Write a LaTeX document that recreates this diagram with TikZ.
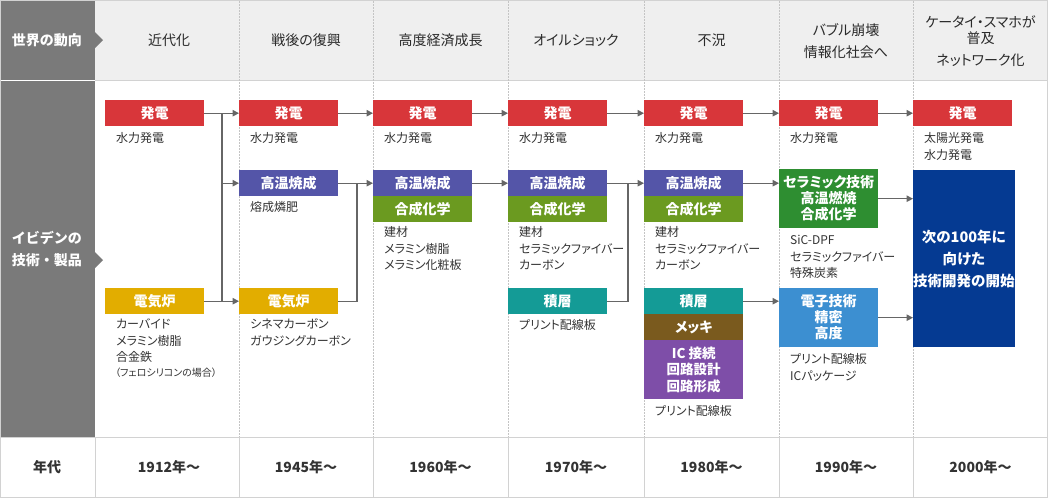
\documentclass[tikz,border=0pt]{standalone}
\usepackage{fontspec}
\setmainfont{Noto Sans CJK JP}[RawFeature={+palt}]
\newfontfamily\fwfont{Noto Sans CJK JP}
\usetikzlibrary{arrows.meta,calc}
\definecolor{cRed}{HTML}{D8363A}
\definecolor{cHt}{HTML}{5455A8}
\definecolor{cSyn}{HTML}{6B9A20}
\definecolor{cFurn}{HTML}{E2AD00}
\definecolor{cLam}{HTML}{149B96}
\definecolor{cPlt}{HTML}{7A5A1E}
\definecolor{cIC}{HTML}{7E4EA8}
\definecolor{cCer}{HTML}{2E8E31}
\definecolor{cEle}{HTML}{3C8FD1}
\definecolor{cNext}{HTML}{053A92}
\definecolor{leftgray}{HTML}{7A7A7A}
\definecolor{hdrbg}{HTML}{EFEFEF}
\definecolor{gridc}{HTML}{D2D2D2}
\definecolor{dotc}{HTML}{C4C4C4}
\definecolor{txtc}{HTML}{333333}
\definecolor{hdrc}{HTML}{2A2A2A}
\definecolor{lnc}{HTML}{666666}
\newcommand\tblock[4]{\foreach \s [count=\i] in {#4} {\node[btxt] (#1-\i) at (#2,{#3+(\i-1)*16.5}) {\s};}}
\begin{document}
\begin{tikzpicture}[x=1pt,y=-1pt,
  colbox/.style={rectangle, inner sep=0pt, minimum width=99pt, minimum height=26pt, anchor=north west, text=white, font=\fontsize{14}{16}\selectfont\bfseries, align=center},
  btxt/.style={anchor=base west, inner sep=0pt, text=txtc, font=\fontsize{12}{14}\selectfont},
  smtxt/.style={anchor=base west, inner sep=0pt, text=txtc, font=\fontsize{10}{12}\selectfont},
  hdr/.style={inner sep=0pt, text=hdrc, align=center, font=\fontsize{14}{22}\selectfont},
  lbl/.style={inner sep=0pt, text=white, align=center, font=\fwfont\fontsize{14}{22}\selectfont\bfseries},
  yr/.style={inner sep=0pt, text=txtc, font=\fontsize{14}{16}\selectfont\bfseries},
  conn/.style={draw=lnc, line width=1.2pt},
  arr/.style={conn, -{Triangle[length=6.5pt,width=6.5pt]}},
  grid/.style={draw=gridc, line width=1pt},
  dotl/.style={draw=dotc, line width=1pt, dash pattern=on 1.5pt off 1.5pt},
]
\useasboundingbox (0,0) rectangle (1050,498);
% backgrounds
\fill[white] (0,0) rectangle (1050,498);
\fill[hdrbg] (95,0) rectangle (1048,80);
\fill[leftgray] (0,0) rectangle (95,79.5);
\fill[leftgray] (95,32) -- (103,40) -- (95,48) -- cycle;
\fill[leftgray] (0,80.5) rectangle (95,437);
\fill[leftgray] (95,252) -- (103,260) -- (95,268) -- cycle;
% grid lines
\draw[grid] (95,80) -- (1048,80);
\draw[grid] (0,437) -- (1048,437);
\draw[grid] (0.5,0.5) rectangle (1047.5,497.5);
\foreach \xx in {95,239,373,508,644,779,913} {\draw[grid] (\xx,437) -- (\xx,497.5);}
\foreach \xx in {239,373,508,644,779,913} {\draw[dotl] (\xx,1) -- (\xx,437);}
% left labels
\node[lbl] (lw) at (47,40) {世界の動向};
\node[lbl] (li) at (47,249) {イビデンの\\技術・製品};
\node[yr] (ylab) at (47,467) {年代};
% header
\node[hdr] (h1) at (169,40) {近代化};
\node[hdr] (h2) at (306,40) {戦後の復興};
\node[hdr] (h3) at (440.5,40) {高度経済成長};
\node[hdr] (h4) at (576,40) {オイルショック};
\node[hdr] (h5) at (711.5,40) {不況};
\node[hdr] (h6) at (846,41) {バブル崩壊\\情報化社会へ};
\node[hdr, font=\fontsize{14}{16}\selectfont] (h7) at (980.5,41) {ケータイ・スマホが\\普及\\[6pt]ネットワーク化};
% years
\node[yr] (y1) at (169,467) {1912年〜};
\node[yr] (y2) at (306,467) {1945年〜};
\node[yr] (y3) at (440.5,467) {1960年〜};
\node[yr] (y4) at (576,467) {1970年〜};
\node[yr] (y5) at (711.5,467) {1980年〜};
\node[yr] (y6) at (846,467) {1990年〜};
\node[yr] (y7) at (980.5,467) {2000年〜};
% boxes col 1
\node[colbox, fill=cRed] (c1pow) at (105,100) {発電};
\node[colbox, fill=cFurn] (c1furn) at (105,288) {電気炉};
% col 2
\node[colbox, fill=cRed] (c2pow) at (239,100) {発電};
\node[colbox, fill=cHt] (c2ht) at (239,170) {高温焼成};
\node[colbox, fill=cFurn] (c2furn) at (239,288) {電気炉};
% col 3
\node[colbox, fill=cRed] (c3pow) at (373,100) {発電};
\node[colbox, fill=cHt] (c3ht) at (373,170) {高温焼成};
\node[colbox, fill=cSyn] (c3syn) at (373,196) {合成化学};
% col 4
\node[colbox, fill=cRed] (c4pow) at (508,100) {発電};
\node[colbox, fill=cHt] (c4ht) at (508,170) {高温焼成};
\node[colbox, fill=cSyn] (c4syn) at (508,196) {合成化学};
\node[colbox, fill=cLam] (c4lam) at (508,288) {積層};
% col 5
\node[colbox, fill=cRed] (c5pow) at (644,100) {発電};
\node[colbox, fill=cHt] (c5ht) at (644,170) {高温焼成};
\node[colbox, fill=cSyn] (c5syn) at (644,196) {合成化学};
\node[colbox, fill=cLam] (c5lam) at (644,288) {積層};
\node[colbox, fill=cPlt] (c5plt) at (644,314) {メッキ};
\node[colbox, fill=cIC, minimum height=59pt, font=\fontsize{13.5}{16.5}\selectfont\bfseries] (c5ic) at (644,340) {IC 接続\\回路設計\\回路形成};
% col 6
\node[colbox, fill=cRed] (c6pow) at (779,100) {発電};
\node[colbox, fill=cCer, minimum height=59pt] (c6cer) at (779,169) {セラミック技術\\高温燃焼\\合成化学};
\node[colbox, fill=cEle, minimum height=59pt] (c6ele) at (779,288) {電子技術\\精密\\高度};
% col 7
\node[colbox, fill=cRed] (c7pow) at (913,100) {発電};
\node[colbox, fill=cNext, minimum height=177pt, font=\fontsize{14.5}{22}\selectfont\bfseries] (c7next) at (913,170) {次の100年に\\向けた\\技術開発の開始};
% body texts
\tblock{t1a}{116}{142.5}{水力発電}
\tblock{t1b}{116}{328.5}{カーバイド,メラミン樹脂,合金鉄}
\node[smtxt] (t1c) at (115,376) {（フェロシリコンの場合）};
\tblock{t2a}{250}{142.5}{水力発電}
\tblock{t2b}{250}{211.5}{熔成燐肥}
\tblock{t2c}{250}{328.5}{シネマカーボン,ガウジングカーボン}
\tblock{t3a}{384}{142.5}{水力発電}
\tblock{t3b}{384}{236.5}{建材,メラミン樹脂,メラミン化粧板}
\tblock{t4a}{519}{142.5}{水力発電}
\tblock{t4b}{519}{236.5}{建材,セラミックファイバー,カーボン}
\tblock{t4c}{519}{329.5}{プリント配線板}
\tblock{t5a}{655}{142.5}{水力発電}
\tblock{t5b}{655}{236.5}{建材,セラミックファイバー,カーボン}
\tblock{t5c}{655}{415.5}{プリント配線板}
\tblock{t6a}{790}{142.5}{水力発電}
\tblock{t6b}{790}{244.5}{SiC-DPF,セラミックファイバー,特殊炭素}
\tblock{t6c}{790}{363.5}{プリント配線板,ICパッケージ}
\tblock{t7a}{924}{142.5}{太陽光発電,水力発電}
% connectors
\coordinate (bus1) at (222,0);
\coordinate (bus2) at (357,0);
\coordinate (bus4) at (628,0);
\draw[arr] (c1pow.east) -- (c2pow.west);
\draw[arr] (c1furn.east) -- (c2furn.west);
\draw[conn] (c1pow.east -| bus1) -- (c1furn.east -| bus1);
\draw[arr] (c2ht.west -| bus1) -- (c2ht.west);
\draw[arr] (c2pow.east) -- (c3pow.west);
\draw[arr] (c2ht.east) -- (c3ht.west);
\draw[conn] (c2ht.east -| bus2) -- (c2furn.east -| bus2) -- (c2furn.east);
\draw[arr] (c3pow.east) -- (c4pow.west);
\draw[arr] (c3ht.east) -- (c4ht.west);
\draw[arr] (c4pow.east) -- (c5pow.west);
\draw[arr] (c4ht.east) -- (c5ht.west);
\draw[conn] (c4ht.east -| bus4) -- (c4lam.east -| bus4) -- (c4lam.east);
\draw[arr] (c5pow.east) -- (c6pow.west);
\draw[arr] (c5ht.east) -- (c5ht.east -| c6cer.west);
\draw[arr] (c5lam.east) -- (c5lam.east -| c6ele.west);
\draw[arr] (c6pow.east) -- (c7pow.west);
\draw[arr] (c6cer.east) -- (c6cer.east -| c7next.west);
\draw[arr] (c6ele.east) -- (c6ele.east -| c7next.west);
\end{tikzpicture}
\end{document}
